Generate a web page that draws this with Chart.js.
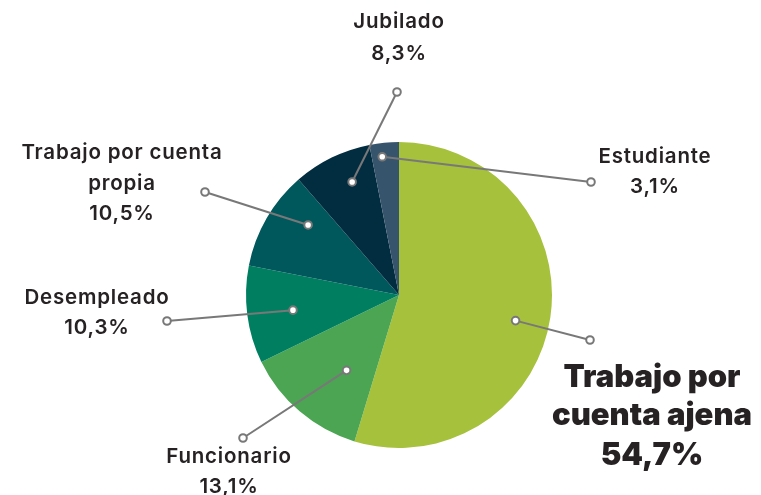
<!DOCTYPE html>
<html>
<head>
<meta charset="utf-8">
<script src="https://cdn.jsdelivr.net/npm/chart.js@4"></script>
<style>
  html, body { margin: 0; padding: 0; background: #fff; }
  #wrap { width: 761px; height: 495px; position: relative; }
</style>
</head>
<body>
<div id="wrap"><canvas id="chart" width="761" height="495"></canvas></div>
<script>
// Data
const categories = ['Trabajo por cuenta ajena', 'Funcionario', 'Desempleado', 'Trabajo por cuenta propia', 'Jubilado', 'Estudiante'];
const shares = [54.7, 13.1, 10.3, 10.5, 8.3, 3.1];
const sliceColors = ['#a6c13c', '#4ba553', '#007f60', '#00585c', '#022d40', '#37546d'];

// Label layout: text lines, text centre, line end, inner point (position within slice, radius fraction)
const labelLayout = [
  { lines: ['Trabajo por', 'cuenta ajena'], x: 652, y: [378, 416, 456], size: 31, weight: 900, end: [590, 340], pos: 0.52, rf: 0.78 },
  { lines: ['Funcionario'], x: 229, y: [457, 487], size: 20.5, weight: 600, end: [243, 438], pos: 0.38, rf: 0.60 },
  { lines: ['Desempleado'], x: 97, y: [298, 328], size: 20.5, weight: 600, end: [167, 321], pos: 0.48, rf: 0.70 },
  { lines: ['Trabajo por cuenta', 'propia'], x: 122, y: [153, 184, 214], size: 20.5, weight: 600, end: [205, 192], pos: 0.70, rf: 0.75 },
  { lines: ['Jubilado'], x: 399, y: [22, 54], size: 20.5, weight: 600, end: [397, 92], pos: 0.62, rf: 0.80 },
  { lines: ['Estudiante'], x: 655, y: [157, 187], size: 20.5, weight: 600, end: [591, 182], pos: 0.38, rf: 0.91 }
];

function formatPct(v) {
  return v.toFixed(1).replace('.', ',') + '%';
}

const leaderLabels = {
  id: 'leaderLabels',
  afterDatasetsDraw(chart) {
    const ctx = chart.ctx;
    const arcs = chart.getDatasetMeta(0).data;
    ctx.save();
    arcs.forEach((arc, i) => {
      const cfg = labelLayout[i];
      const p = arc.getProps(['x', 'y', 'startAngle', 'endAngle', 'outerRadius'], true);
      const a = p.startAngle + (p.endAngle - p.startAngle) * cfg.pos;
      const r = p.outerRadius * cfg.rf;
      const ix = p.x + Math.cos(a) * r;
      const iy = p.y + Math.sin(a) * r;

      // leader line
      ctx.strokeStyle = '#787878';
      ctx.lineWidth = 2;
      ctx.beginPath();
      ctx.moveTo(ix, iy);
      ctx.lineTo(cfg.end[0], cfg.end[1]);
      ctx.stroke();
      [[ix, iy], cfg.end].forEach(pt => {
        ctx.beginPath();
        ctx.arc(pt[0], pt[1], 3.8, 0, Math.PI * 2);
        ctx.fillStyle = '#fff';
        ctx.fill();
        ctx.stroke();
      });

      // text
      ctx.fillStyle = '#262223';
      ctx.textAlign = 'center';
      ctx.textBaseline = 'middle';
      ctx.font = `${cfg.weight} ${cfg.size}px Inter, "Open Sans", sans-serif`;
      ctx.letterSpacing = cfg.weight === 900 ? '0px' : '0.8px';
      const texts = cfg.lines.concat([formatPct(shares[i])]);
      texts.forEach((t, k) => ctx.fillText(t, cfg.x, cfg.y[k]));
    });
    ctx.restore();
  }
};

const chart = new Chart(document.getElementById('chart').getContext('2d'), {
  type: 'pie',
  data: {
    labels: categories,
    datasets: [{
      data: shares,
      backgroundColor: sliceColors,
      borderWidth: 0
    }]
  },
  options: {
    responsive: false,
    animation: false,
    layout: { padding: { left: 246, right: 209, top: 142, bottom: 47 } },
    plugins: {
      legend: { display: false },
      tooltip: { enabled: false }
    }
  },
  plugins: [leaderLabels]
});
</script>
</body>
</html>
